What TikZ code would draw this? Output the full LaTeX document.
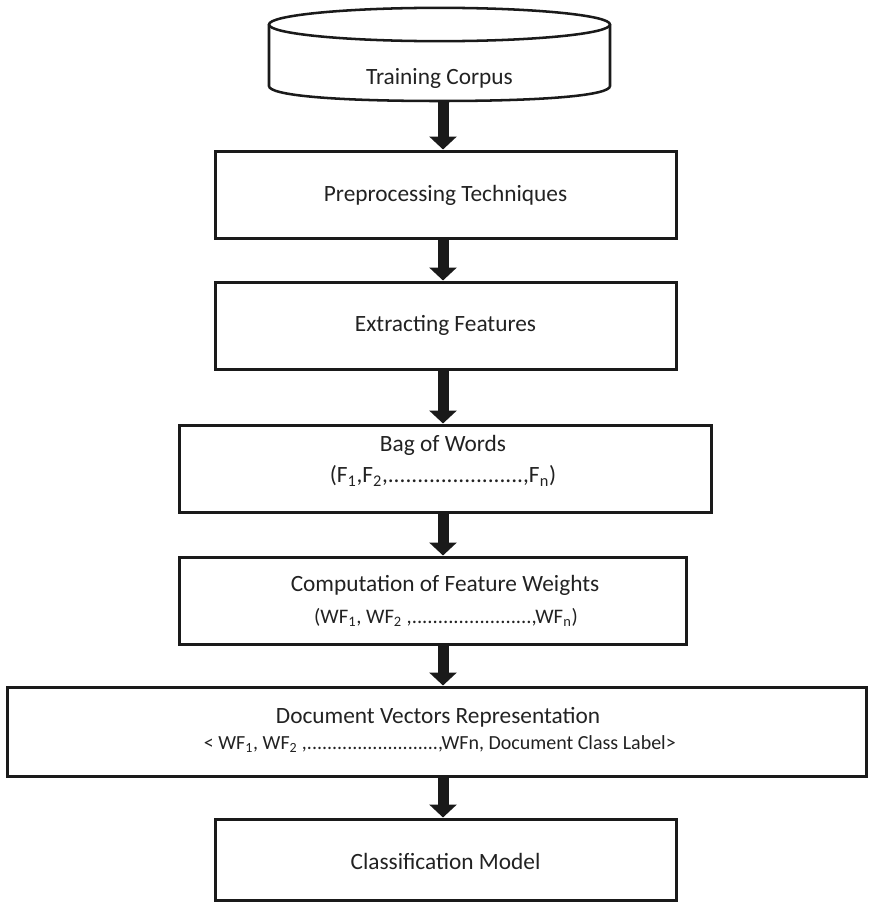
\documentclass[tikz,border=0pt]{standalone}
\usepackage{fontspec}
\setmainfont{Carlito}
\usetikzlibrary{arrows.meta}
\definecolor{ink}{HTML}{1A1A1A}
\definecolor{txt}{HTML}{222222}
\tikzset{
  box/.style={draw=ink, line width=2.25pt, inner sep=0pt, fill=none},
  lbl/.style={inner sep=0pt, text=txt, font=\fontsize{17.5}{20}\selectfont},
  sublbl/.style={inner sep=0pt, text=txt, font=\fontsize{15.5}{18}\selectfont},
  smalllbl/.style={inner sep=0pt, text=txt, font=\fontsize{15}{17}\selectfont},
  flow/.style={draw=ink, line width=8.25pt, -{Triangle[width=20.25pt,length=9.75pt]}},
}
\begin{document}
\begin{tikzpicture}[x=0.75pt,y=-0.75pt]
\useasboundingbox (0,0) rectangle (869,903);
\coordinate (axis) at (443,0);
% cylinder
\draw[ink, line width=1.9pt] (439.5,24.5) ellipse [x radius=127.9pt, y radius=12.5pt];
\draw[ink, line width=1.9pt] (269,24.5) -- (269,86) .. controls (269,95) and (330,101) .. (439.5,101)
  .. controls (549,101) and (610,95) .. (610,86) -- (610,24.5);
\node[lbl] (tc) at (439.5,78) {Training Corpus};
\coordinate (cylbot) at (443,101);
% boxes
\node[box, minimum width=345.75pt, minimum height=65.25pt] (b1) at (445.5,194.5) {};
\node[lbl] (t1) at (445.5,195) {Preprocessing Techniques};
\node[box, minimum width=345.75pt, minimum height=65.25pt] (b2) at (445.5,325.5) {};
\node[lbl] (t2) at (445.5,325) {Extracting Features};
\node[box, minimum width=399pt, minimum height=65.25pt] (b3) at (445,468.5) {};
\node[lbl] (t3a) at (443,445) {Bag of Words};
\node[lbl] (t3b) at (443,476) {(F\textsubscript{1},F\textsubscript{2},.......................,F\textsubscript{n})};
\node[box, minimum width=380.25pt, minimum height=65.25pt] (b4) at (432.5,600.5) {};
\node[lbl] (t4a) at (445,585) {Computation of Feature Weights};
\node[sublbl] (t4b) at (446,617) {(WF\textsubscript{1}, WF\textsubscript{2} ,.......................,WF\textsubscript{n})};
\node[box, minimum width=644.25pt, minimum height=66.75pt] (b5) at (436.5,731.5) {};
\node[lbl] (t5a) at (438,717) {Document Vectors Representation};
\node[smalllbl] (t5b) at (440,744) {< WF\textsubscript{1}, WF\textsubscript{2} ,..........................,WFn, Document Class Label>};
\node[box, minimum width=345.75pt, minimum height=60.75pt] (b6) at (445.5,859.5) {};
\node[lbl] (t6) at (445.5,861) {Classification Model};
% arrows
\draw[flow] (cylbot) -- (b1.north -| axis);
\draw[flow] (b1.south -| axis) -- (b2.north -| axis);
\draw[flow] (b2.south -| axis) -- (b3.north -| axis);
\draw[flow] (b3.south -| axis) -- (b4.north -| axis);
\draw[flow] (b4.south -| axis) -- (b5.north -| axis);
\draw[flow] (b5.south -| axis) -- (b6.north -| axis);
\end{tikzpicture}
\end{document}
